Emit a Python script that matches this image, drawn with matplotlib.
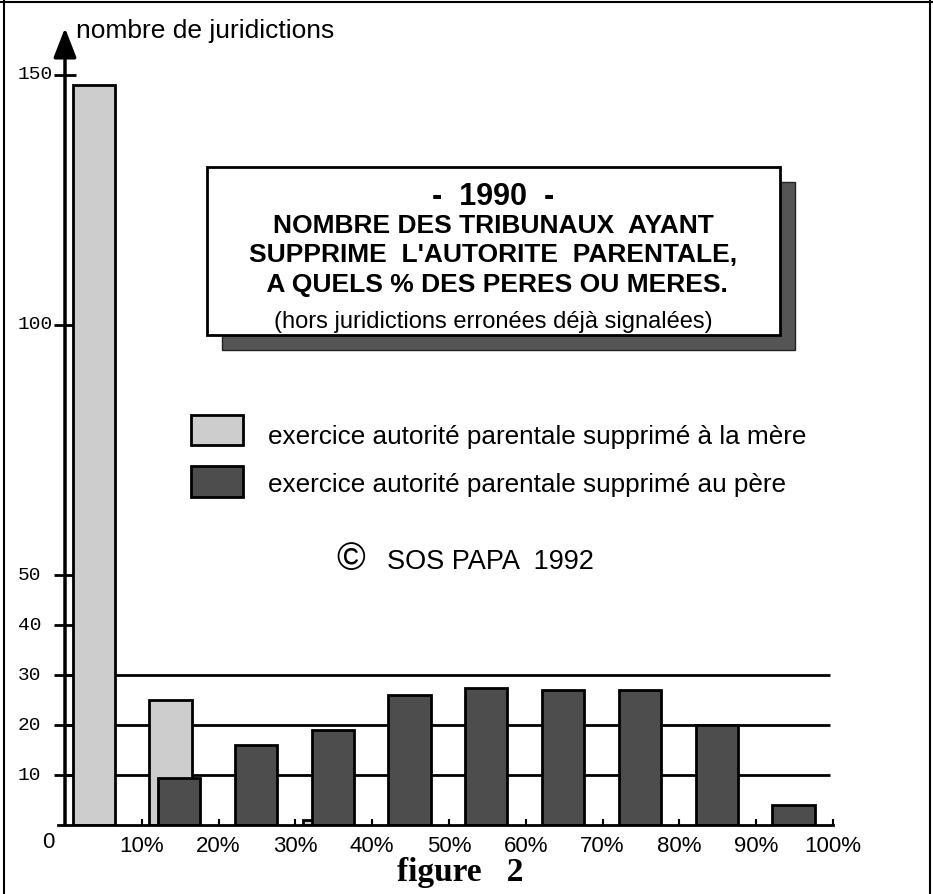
import matplotlib
matplotlib.use("Agg")
import matplotlib.pyplot as plt
from matplotlib.patches import Rectangle
from matplotlib.lines import Line2D
import matplotlib.transforms as mtransforms

# values (number of courts per % bin)
bins = ['10%', '20%', '30%', '40%', '50%', '60%', '70%', '80%', '90%', '100%']
mere = [148, 25, 0, 1, 0, 0, 0, 0, 0, 0]
pere = [0, 9.5, 16, 19, 26, 27.5, 27, 27, 20, 4]
ytick_vals = [10, 20, 30, 40, 50, 100, 150]
grid_vals = [10, 20, 30]

label_mere = "exercice autorité parentale supprimé à la mère"
label_pere = "exercice autorité parentale supprimé au père"
title_lines = ["NOMBRE DES TRIBUNAUX  AYANT",
               "SUPPRIME  L'AUTORITE  PARENTALE,",
               " A QUELS % DES PERES OU MERES."]

plt.rcParams['font.family'] = ['Liberation Sans', 'DejaVu Sans']

W, H = 933, 894
fig = plt.figure(figsize=(W / 100, H / 100), dpi=100)
fig.patch.set_facecolor('white')

# axes placed so 0..10 bins and 0..150 fit the scanned pixel layout
x0, x1, y0, y1 = 65, 833, 825, 75
ax = fig.add_axes([x0 / W, (H - y0) / H, (x1 - x0) / W, (y0 - y1) / H])
ax.set_xlim(0, 10)
ax.set_ylim(0, 150)
for s in ax.spines.values():
    s.set_visible(False)


def axfrac(px, py):
    return ((px - x0) / (x1 - x0), (y0 - py) / (y0 - y1))


# horizontal reference lines
ax.hlines(grid_vals, 0, 9.96, color='black', lw=2, zorder=1)

# bars
idx = list(range(len(bins)))
mx = [i + 0.1 for i in idx if mere[i] > 0]
mh = [mere[i] for i in idx if mere[i] > 0]
px_ = [i + 0.21 for i in idx if pere[i] > 0]
ph = [pere[i] for i in idx if pere[i] > 0]
ax.bar(mx, mh, width=0.55, align='edge', color='#cdcdcd', edgecolor='black', lw=2, zorder=2)
ax.bar(px_, ph, width=0.55, align='edge', color='#4d4d4d', edgecolor='black', lw=2, zorder=3)

# axis lines: baseline and vertical arrow
ax.plot([-0.09, 10], [0, 0], color='black', lw=2, clip_on=False, zorder=4)
ax.annotate('', xy=(0, axfrac(0, 28)[1]), xytext=(0, 0), xycoords='axes fraction',
            textcoords='axes fraction',
            arrowprops=dict(arrowstyle='-|>,head_length=0.9,head_width=0.35',
                            mutation_scale=20, lw=2.5, color='black', shrinkA=0, shrinkB=0),
            zorder=4)
ax.text(*axfrac(76, 31), "nombre de juridictions", transform=ax.transAxes,
        fontsize=19, ha='left', va='center')

# y ticks and hand-placed mono labels
ax.set_yticks(ytick_vals, labels=[''] * len(ytick_vals))
ax.tick_params(axis='y', direction='inout', length=16, width=2)
ytrans = mtransforms.blended_transform_factory(fig.transFigure, ax.transData)
for v in ytick_vals:
    ax.text(18 / W, v, str(v), transform=ytrans, family='Liberation Mono',
            fontsize=14, ha='left', va='center')

# x ticks at bin edges
ax.set_xticks(range(1, len(bins) + 1), labels=bins)
ax.tick_params(axis='x', direction='in', length=4, width=1.5, pad=8, labelsize=16)
ax.text(*axfrac(48, 842), "0", transform=ax.transAxes, fontsize=16,
        ha='center', va='center')

# title box with shadow
bx0, by0, bx1, by1 = axfrac(207, 335) + axfrac(780, 167)
sh = 15 / (x1 - x0), 15 / (y0 - y1)
ax.add_patch(Rectangle((bx0 + sh[0], by0 - sh[1]), bx1 - bx0, by1 - by0,
                       transform=ax.transAxes, facecolor='#555555', edgecolor='#222222',
                       lw=1, zorder=5, clip_on=False))
ax.add_patch(Rectangle((bx0, by0), bx1 - bx0, by1 - by0, transform=ax.transAxes,
                       facecolor='white', edgecolor='black', lw=2, zorder=6, clip_on=False))
cx = (bx0 + bx1) / 2
ax.text(cx, axfrac(0, 197)[1], "-  1990  -", transform=ax.transAxes, fontsize=22,
        weight='bold', ha='center', va='center', zorder=7)
for line, py in zip(title_lines, [226, 255, 285]):
    ax.text(cx, axfrac(0, py)[1], line, transform=ax.transAxes, fontsize=19,
            weight='bold', ha='center', va='center', zorder=7)
ax.text(cx, axfrac(0, 322)[1], "(hors juridictions erronées déjà signalées)",
        transform=ax.transAxes, fontsize=17, ha='center', va='center', zorder=7)

# legend drawn by hand
for (top, bot), col, lab, ty in [((415, 445), '#cdcdcd', label_mere, 437),
                                  ((466, 497), '#4d4d4d', label_pere, 485)]:
    lx, ly = axfrac(191, bot)
    ax.add_patch(Rectangle((lx, ly), 52 / (x1 - x0), (bot - top) / (y0 - y1),
                           transform=ax.transAxes, facecolor=col, edgecolor='black',
                           lw=2, zorder=6))
    ax.text(*axfrac(268, ty), lab, transform=ax.transAxes, fontsize=18.8,
            ha='left', va='center')

# copyright line
ax.text(*axfrac(351, 560), "©", transform=ax.transAxes, fontsize=28,
        ha='center', va='center')
ax.text(*axfrac(387, 562), "SOS PAPA  1992", transform=ax.transAxes, fontsize=19.5,
        ha='left', va='center')

# caption
fig.text(460 / W, 1 - 872 / H, "figure   2", family='Liberation Serif', weight='bold',
         fontsize=24, ha='center', va='center')

# scan frame
for xs, ys in [([4, 4], [0, H]), ([0, W], [1.5, 1.5]), ([930, 930], [0, H])]:
    fig.add_artist(Line2D([x / W for x in xs], [1 - y / H for y in ys],
                          color='black', lw=1.5))

fig.savefig("out.png", dpi=100)
